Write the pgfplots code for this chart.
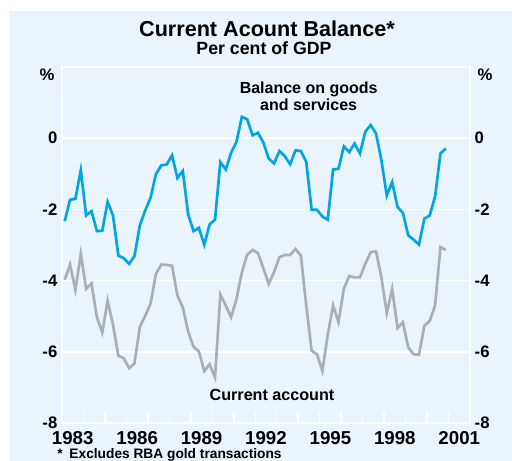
\documentclass[border=0pt]{standalone}
\usepackage{pgfplots}
\usepackage{pgfplotstable}
\pgfplotsset{compat=1.18}
\usepackage{fontspec}
\setmainfont{Liberation Sans}

\definecolor{panel}{RGB}{234,244,252}
\definecolor{gsblue}{RGB}{0,166,228}
\definecolor{cagrey}{RGB}{170,175,180}

% quarterly, per cent of GDP
\pgfplotstableread{
x        gs     ca
1983.125 -2.33 -3.98
1983.375 -1.73 -3.55
1983.625 -1.70 -4.26
1983.875 -0.90 -3.25
1984.125 -2.17 -4.23
1984.375 -2.05 -4.08
1984.625 -2.61 -5.03
1984.875 -2.60 -5.46
1985.125 -1.79 -4.56
1985.375 -2.17 -5.24
1985.625 -3.30 -6.11
1985.875 -3.37 -6.18
1986.125 -3.53 -6.46
1986.375 -3.31 -6.33
1986.625 -2.45 -5.30
1986.875 -2.03 -4.99
1987.125 -1.67 -4.64
1987.375 -1.01 -3.81
1987.625 -0.76 -3.55
1987.875 -0.74 -3.56
1988.125 -0.48 -3.58
1988.375 -1.12 -4.42
1988.625 -0.92 -4.75
1988.875 -2.14 -5.43
1989.125 -2.61 -5.86
1989.375 -2.52 -5.99
1989.625 -2.99 -6.54
1989.875 -2.42 -6.35
1990.125 -2.29 -6.72
1990.375 -0.67 -4.39
1990.625 -0.88 -4.70
1990.875 -0.41 -5.03
1991.125 -0.10 -4.52
1991.375  0.60 -3.77
1991.625  0.53 -3.27
1991.875  0.08 -3.14
1992.125  0.15 -3.23
1992.375 -0.12 -3.65
1992.625 -0.57 -4.09
1992.875 -0.71 -3.76
1993.125 -0.36 -3.34
1993.375 -0.51 -3.28
1993.625 -0.73 -3.28
1993.875 -0.34 -3.11
1994.125 -0.36 -3.30
1994.375 -0.67 -4.70
1994.625 -2.01 -5.97
1994.875 -2.01 -6.07
1995.125 -2.20 -6.54
1995.375 -2.29 -5.52
1995.625 -0.88 -4.70
1995.875 -0.86 -5.17
1996.125 -0.23 -4.23
1996.375 -0.39 -3.87
1996.625 -0.15 -3.91
1996.875 -0.43 -3.91
1997.125  0.18 -3.53
1997.375  0.37 -3.20
1997.625  0.13 -3.18
1997.875 -0.62 -3.91
1998.125 -1.61 -4.92
1998.375 -1.23 -4.23
1998.625 -1.93 -5.33
1998.875 -2.10 -5.17
1999.125 -2.73 -5.88
1999.375 -2.85 -6.07
1999.625 -2.99 -6.08
1999.875 -2.26 -5.27
2000.125 -2.17 -5.13
2000.375 -1.63 -4.70
2000.625 -0.43 -3.06
2000.875 -0.29 -3.14
}\datatable

\begin{document}
\begin{tikzpicture}[font=\bfseries]
% page and panel
\fill[white] (-46.5pt,-28.5pt) rectangle (337.5pt,317.25pt);
\path[use as bounding box] (-46.5pt,-28.5pt) rectangle (337.5pt,317.25pt);
\fill[panel] (-39.75pt,-28.5pt) rectangle (337.5pt,309pt);

\begin{axis}[
    scale only axis, width=306pt, height=267pt,
    xmin=1983, xmax=2002, ymin=-8, ymax=2,
    axis line style={white, line width=1.3pt},
    ytick={-8,-6,...,2}, yticklabels={-8,-6,-4,-2,0,},
    ytick style={draw=none},
    ymajorgrids, grid style={white, line width=1.3pt},
    xtick={1984,...,2001}, xticklabels={},
    xtick pos=bottom, tick align=inside,
    major tick length=7.5pt,
    xtick style={white, line width=1.1pt},
    extra x ticks={1983.5,1986.5,1989.5,1992.5,1995.5,1998.5,2001.5},
    extra x tick labels={1983,1986,1989,1992,1995,1998,2001},
    extra x tick style={major tick length=0pt, xticklabel style={font=\bfseries\fontsize{14}{16}\selectfont, yshift=-3pt}},
    yticklabel style={font=\bfseries\fontsize{12.5}{14}\selectfont},
    /pgf/number format/assume math mode=true,
    clip=false,
]
\addplot[gsblue, line width=2pt] table[x=x, y=gs] {\datatable};
\addplot[cagrey, line width=2pt] table[x=x, y=ca] {\datatable};
\end{axis}

\begin{axis}[
    scale only axis, width=306pt, height=267pt,
    xmin=1983, xmax=2002, ymin=-8, ymax=2,
    hide x axis, axis y line*=right,
    y axis line style={draw=none},
    ytick={-8,-6,...,0}, ytick style={draw=none},
    yticklabel style={font=\bfseries\fontsize{12.5}{14}\selectfont},
    /pgf/number format/assume math mode=true,
]
\end{axis}

\node[font=\bfseries\fontsize{16.2}{18}\selectfont] at (153.75pt,295.75pt) {Current Acount Balance*};
\node[font=\bfseries\fontsize{13.3}{15}\selectfont] at (151.5pt,281pt) {Per cent of GDP};
\node[font=\bfseries\fontsize{12.5}{14}\selectfont] at (-11.25pt,261pt) {\%};
\node[font=\bfseries\fontsize{12.5}{14}\selectfont] at (317.25pt,261pt) {\%};
\node[font=\bfseries\fontsize{12}{12.5}\selectfont, align=center] at (185pt,245.25pt) {Balance on goods\\and services};
\node[font=\bfseries\fontsize{12.1}{14}\selectfont] at (157.5pt,21pt) {Current account};
\node[font=\bfseries\fontsize{10.3}{12}\selectfont, anchor=base west, inner sep=0pt] at (-3.75pt,-27pt) {*\enspace Excludes RBA gold transactions};
\end{tikzpicture}
\end{document}
